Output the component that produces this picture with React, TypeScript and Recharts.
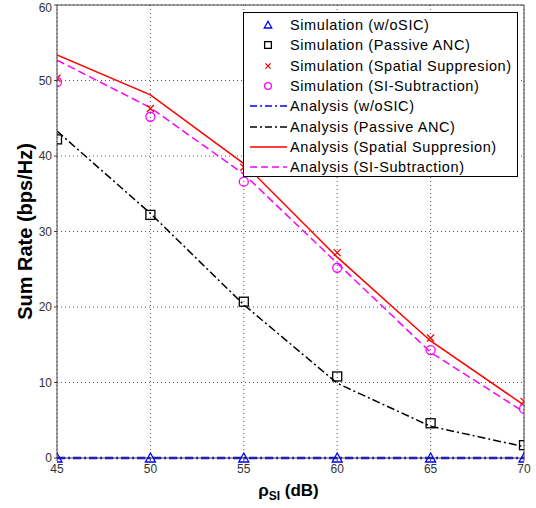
import React from "react";
import {
  ComposedChart,
  Line,
  XAxis,
  YAxis,
  CartesianGrid,
  ReferenceLine,
  Legend,
} from "recharts";

const snrDb = [45, 50, 55, 60, 65, 70];
const simWoSic = [0, 0, 0, 0, 0, 0];
const simPassive = [42.2, 32.2, 20.7, 10.8, 4.6, 1.7];
const simSpatial = [50.3, 46.3, 38.5, 27.2, 15.9, 7.5];
const simSubtract = [49.8, 45.2, 36.6, 25.2, 14.3, 6.5];
const anaWoSic = [0, 0, 0, 0, 0, 0];
const anaPassive = [43.3, 32.4, 20.3, 9.9, 4.2, 1.5];
const anaSpatial = [53.4, 48.1, 39.0, 26.6, 15.5, 7.0];
const anaSubtract = [52.7, 46.4, 37.6, 25.8, 14.0, 6.1];

const xTicks = [45, 50, 55, 60, 65, 70];
const yTicks = [0, 10, 20, 30, 40, 50, 60];

const data = snrDb.map((x, i) => ({
  x,
  simWoSic: simWoSic[i],
  simPassive: simPassive[i],
  simSpatial: simSpatial[i],
  simSubtract: simSubtract[i],
  anaWoSic: anaWoSic[i],
  anaPassive: anaPassive[i],
  anaSpatial: anaSpatial[i],
  anaSubtract: anaSubtract[i],
}));

const FONT = "Liberation Sans, Arial, sans-serif";

type MarkerKind = "triangle" | "square" | "cross" | "circle";

// s scales the marker, legend uses smaller ones
function marker(kind: MarkerKind, color: string, cx: number, cy: number, key?: any, s = 1) {
  if (kind === "triangle")
    return (
      <path key={key} d={`M${cx},${cy - 5 * s} L${cx + 5 * s},${cy + 4 * s} L${cx - 5 * s},${cy + 4 * s} Z`}
        fill="none" stroke={color} strokeWidth={1.3} />
    );
  if (kind === "square")
    return <rect key={key} x={cx - 4.5 * s} y={cy - 4.5 * s} width={9 * s} height={9 * s} fill="none" stroke={color} strokeWidth={1.3} />;
  if (kind === "cross")
    return (
      <path key={key} d={`M${cx - 3.5 * s},${cy - 3.5 * s} L${cx + 3.5 * s},${cy + 3.5 * s} M${cx - 3.5 * s},${cy + 3.5 * s} L${cx + 3.5 * s},${cy - 3.5 * s}`}
        stroke={color} strokeWidth={1.3} />
    );
  return <circle key={key} cx={cx} cy={cy} r={4.5 * s} fill="none" stroke={color} strokeWidth={1.3} />;
}

const dotFor = (kind: MarkerKind, color: string) => (p: any) =>
  marker(kind, color, p.cx, p.cy, p.key ?? `${kind}-${p.index}`);

const legendItems = [
  { label: "Simulation (w/oSIC)", kind: "triangle" as MarkerKind, color: "#0000ff" },
  { label: "Simulation (Passive ANC)", kind: "square" as MarkerKind, color: "#000000" },
  { label: "Simulation (Spatial Suppresion)", kind: "cross" as MarkerKind, color: "#ff0000" },
  { label: "Simulation (SI-Subtraction)", kind: "circle" as MarkerKind, color: "#ff00ff" },
  { label: "Analysis (w/oSIC)", dash: "7 3 2 3", color: "#0000ff" },
  { label: "Analysis (Passive ANC)", dash: "7 3 2 3", color: "#000000" },
  { label: "Analysis (Spatial Suppresion)", dash: undefined, color: "#ff0000" },
  { label: "Analysis (SI-Subtraction)", dash: "7 4", color: "#ff00ff" },
];

function LegendBox() {
  return (
    <div
      style={{
        width: 275,
        height: 165,
        border: "1px solid #000",
        background: "#fff",
        boxSizing: "border-box",
        paddingTop: 2,
      }}
    >
      {legendItems.map((it: any) => (
        <div key={it.label} style={{ display: "flex", alignItems: "center", height: 20.3 }}>
          <svg width={46} height={14} style={{ flex: "none" }}>
            {it.kind
              ? marker(it.kind, it.color, 24, 7, undefined, 0.75)
              : <line x1={6} y1={7} x2={43} y2={7} stroke={it.color} strokeWidth={1.5} strokeDasharray={it.dash} />}
          </svg>
          <span style={{ fontFamily: FONT, fontSize: 14.5, letterSpacing: 0.6, lineHeight: "20px", color: "#000", whiteSpace: "nowrap" }}>
            {it.label}
          </span>
        </div>
      ))}
    </div>
  );
}

function XLabel(props: any) {
  const vb = props.viewBox;
  const cx = vb.x + vb.width / 2;
  return (
    <text x={cx - 2} y={vb.y + 38} textAnchor="middle" fontFamily={FONT} fontWeight="bold" fontSize={17} fill="#000">
      ρ<tspan fontSize={12} dy={4}>SI</tspan>
      <tspan dy={-4}> (dB)</tspan>
    </text>
  );
}

function YLabel(props: any) {
  const vb = props.viewBox;
  const cy = vb.y + vb.height / 2;
  const x = 32;
  return (
    <text x={x} y={cy} transform={`rotate(-90 ${x} ${cy})`} textAnchor="middle" fontFamily={FONT} fontWeight="bold" fontSize={20} fill="#000">
      Sum Rate (bps/Hz)
    </text>
  );
}

const tickStyle = { fontFamily: FONT, fontSize: 12, fill: "#333" };

export default function App() {
  return (
    <div style={{ position: "absolute", left: 0, top: 0, width: 536, height: 508, background: "#fff" }}>
      <ComposedChart width={536} height={508} data={data} margin={{ top: 5, right: 12, left: 0, bottom: 0 }}>
        <CartesianGrid stroke="#555" strokeDasharray="1 3" />
        <XAxis
          dataKey="x"
          type="number"
          domain={[45, 70]}
          ticks={xTicks}
          height={50}
          stroke="#444"
          tick={tickStyle}
          tickSize={3}
          tickMargin={3}
          label={<XLabel />}
          allowDataOverflow
        />
        <YAxis
          type="number"
          domain={[0, 60]}
          ticks={yTicks}
          width={57}
          stroke="#444"
          tick={tickStyle}
          tickSize={3}
          tickMargin={2}
          label={<YLabel />}
        />
        <ReferenceLine y={60} stroke="#444" />
        <ReferenceLine x={70} stroke="#444" />
        <Line dataKey="simWoSic" stroke="none" isAnimationActive={false} dot={dotFor("triangle", "#0000ff")} activeDot={false} />
        <Line dataKey="simPassive" stroke="none" isAnimationActive={false} dot={dotFor("square", "#000000")} activeDot={false} />
        <Line dataKey="simSpatial" stroke="none" isAnimationActive={false} dot={dotFor("cross", "#ff0000")} activeDot={false} />
        <Line dataKey="simSubtract" stroke="none" isAnimationActive={false} dot={dotFor("circle", "#ff00ff")} activeDot={false} />
        <Line dataKey="anaWoSic" stroke="#0000ff" strokeWidth={2.4} strokeDasharray="8 3 2 3" dot={false} isAnimationActive={false} />
        <Line dataKey="anaPassive" stroke="#000000" strokeWidth={1.5} strokeDasharray="8 3 2 3" dot={false} isAnimationActive={false} />
        <Line dataKey="anaSpatial" stroke="#ff0000" strokeWidth={1.5} dot={false} isAnimationActive={false} />
        <Line dataKey="anaSubtract" stroke="#ff00ff" strokeWidth={1.5} strokeDasharray="8 4" dot={false} isAnimationActive={false} />
        <Legend
          layout="vertical"
          align="center"
          verticalAlign="middle"
          content={() => <LegendBox />}
          wrapperStyle={{ position: "absolute", left: 243, top: 12, width: 275 }}
        />
      </ComposedChart>
    </div>
  );
}
